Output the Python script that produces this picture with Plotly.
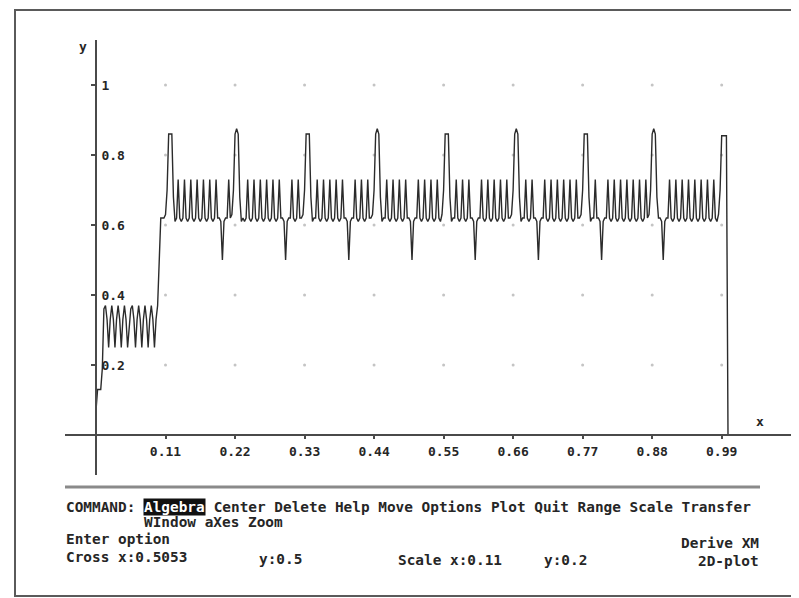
import plotly.graph_objects as go

# ---------------- data ----------------
x_tick_vals = [0.11, 0.22, 0.33, 0.44, 0.55, 0.66, 0.77, 0.88, 0.99]
x_tick_text = ["0.11", "0.22", "0.33", "0.44", "0.55", "0.66", "0.77", "0.88", "0.99"]
y_tick_vals = [0.2, 0.4, 0.6, 0.8, 1.0]
y_tick_text = ["0.2", "0.4", "0.6", "0.8", "1"]

x_step = 0.0025  # sampling step of the plotted curve (x from 0 to 1)

# curve values, x = 0 .. 0.1
y_startup = [
    0.07, 0.13, 0.13, 0.13, 0.19, 0.36, 0.37, 0.33, 0.25, 0.33, 0.37, 0.33, 0.25, 0.33, 0.37, 0.33, 0.25, 0.33, 0.37, 0.33,
    0.25, 0.32, 0.36, 0.37, 0.33, 0.25, 0.33, 0.37, 0.33, 0.25, 0.33, 0.37, 0.33, 0.25, 0.33, 0.37, 0.33, 0.25, 0.33, 0.37,
]
# curve values, x = 0.1 .. 1.0
y_upper = [
    0.52, 0.62, 0.62, 0.62, 0.63, 0.70, 0.86, 0.86, 0.86, 0.68, 0.61, 0.62, 0.73, 0.62, 0.61, 0.62, 0.73, 0.62, 0.61, 0.62,
    0.73, 0.62, 0.61, 0.62, 0.73, 0.62, 0.61, 0.62, 0.73, 0.62, 0.61, 0.62, 0.73, 0.62, 0.61, 0.62, 0.73, 0.62, 0.62, 0.61,
    0.50, 0.61, 0.62, 0.62, 0.73, 0.62, 0.63, 0.70, 0.86, 0.875, 0.86, 0.68, 0.61, 0.62, 0.61, 0.62, 0.73, 0.62, 0.61, 0.62,
    0.73, 0.62, 0.61, 0.62, 0.73, 0.62, 0.61, 0.62, 0.73, 0.62, 0.61, 0.62, 0.73, 0.62, 0.61, 0.62, 0.73, 0.62, 0.62, 0.61,
    0.50, 0.61, 0.62, 0.62, 0.73, 0.62, 0.61, 0.62, 0.73, 0.62, 0.62, 0.63, 0.70, 0.86, 0.86, 0.86, 0.68, 0.61, 0.62, 0.62,
    0.73, 0.62, 0.61, 0.62, 0.73, 0.62, 0.61, 0.62, 0.73, 0.62, 0.61, 0.62, 0.73, 0.62, 0.61, 0.62, 0.73, 0.62, 0.62, 0.61,
    0.50, 0.61, 0.62, 0.62, 0.73, 0.62, 0.61, 0.62, 0.73, 0.62, 0.61, 0.62, 0.73, 0.62, 0.62, 0.63, 0.70, 0.86, 0.875, 0.86,
    0.68, 0.61, 0.62, 0.62, 0.73, 0.62, 0.61, 0.62, 0.73, 0.62, 0.61, 0.62, 0.73, 0.62, 0.61, 0.62, 0.73, 0.62, 0.62, 0.61,
    0.50, 0.61, 0.62, 0.62, 0.73, 0.62, 0.61, 0.62, 0.73, 0.62, 0.61, 0.62, 0.73, 0.62, 0.61, 0.62, 0.73, 0.62, 0.61, 0.63,
    0.70, 0.86, 0.86, 0.86, 0.68, 0.61, 0.62, 0.62, 0.73, 0.62, 0.61, 0.62, 0.73, 0.62, 0.61, 0.62, 0.73, 0.62, 0.62, 0.61,
    0.50, 0.61, 0.62, 0.62, 0.73, 0.62, 0.61, 0.62, 0.73, 0.62, 0.61, 0.62, 0.73, 0.62, 0.61, 0.62, 0.73, 0.62, 0.61, 0.62,
    0.73, 0.62, 0.62, 0.63, 0.70, 0.86, 0.875, 0.86, 0.68, 0.61, 0.62, 0.62, 0.73, 0.62, 0.61, 0.62, 0.73, 0.62, 0.62, 0.61,
    0.50, 0.61, 0.62, 0.62, 0.73, 0.62, 0.61, 0.62, 0.73, 0.62, 0.61, 0.62, 0.73, 0.62, 0.61, 0.62, 0.73, 0.62, 0.61, 0.62,
    0.73, 0.62, 0.61, 0.62, 0.73, 0.62, 0.62, 0.63, 0.70, 0.86, 0.86, 0.86, 0.68, 0.61, 0.62, 0.62, 0.73, 0.62, 0.62, 0.61,
    0.50, 0.61, 0.62, 0.62, 0.73, 0.62, 0.61, 0.62, 0.73, 0.62, 0.61, 0.62, 0.73, 0.62, 0.61, 0.62, 0.73, 0.62, 0.61, 0.62,
    0.73, 0.62, 0.61, 0.62, 0.73, 0.62, 0.61, 0.62, 0.73, 0.62, 0.63, 0.70, 0.86, 0.875, 0.86, 0.68, 0.62, 0.62, 0.61, 0.50,
    0.61, 0.62, 0.62, 0.73, 0.62, 0.61, 0.62, 0.73, 0.62, 0.61, 0.62, 0.73, 0.62, 0.61, 0.62, 0.73, 0.62, 0.61, 0.62, 0.73,
    0.62, 0.61, 0.62, 0.73, 0.62, 0.61, 0.62, 0.73, 0.62, 0.61, 0.62, 0.73, 0.62, 0.61, 0.63, 0.70, 0.855, 0.855, 0.855, 0.855,
    0.0,
]

menu_lead = "COMMAND: "
menu_hot = "Algebra"
menu_rest = " Center Delete Help Move Options Plot Quit Range Scale Transfer"
menu_line2 = "WIndow aXes Zoom"
status_texts = ["Enter option", "Cross x:0.5053", "y:0.5", "Scale x:0.11", "y:0.2"]
right_texts = ["Derive XM", "2D-plot"]

# ---------------- build ----------------
y_curve = y_startup + y_upper
x_curve = [round(i * x_step, 4) for i in range(len(y_curve))]

PAGE = 8                      # default body margin of the html page
W, H = 799 - PAGE, 598 - PAGE
X0, XS = 96.0, 632.0          # window pixel of x=0, pixels per unit
Y0, YS = 435.0, 350.0         # window pixel of y=0, pixels per unit


def dx(px):
    return (px - X0) / XS


def dy(py):
    return (Y0 - py) / YS


def fx(px):
    return (px - PAGE) / W


def fy(py):
    return 1 - (py - PAGE) / H


MONO = "DejaVu Sans Mono"
INK = "#262626"

grid_x = [xv for yv in y_tick_vals for xv in x_tick_vals]
grid_y = [yv for yv in y_tick_vals for xv in x_tick_vals]

fig = go.Figure()
fig.add_trace(go.Scatter(
    x=grid_x, y=grid_y, mode="markers",
    marker=dict(size=3, color="#c4c4c4"), hoverinfo="skip"))
fig.add_trace(go.Scatter(
    x=x_curve, y=y_curve, mode="lines",
    line=dict(color="#2b2b2b", width=1.4), hoverinfo="skip"))

fig.update_layout(
    width=W, height=H,
    margin=dict(l=0, r=0, t=0, b=0),
    paper_bgcolor="white", plot_bgcolor="white",
    showlegend=False, hovermode=False,
    xaxis=dict(
        domain=[fx(65), fx(795)], range=[dx(65), dx(795)],
        anchor="free", position=fy(Y0),
        showline=True, linecolor="#4a4a4a", linewidth=2,
        ticks="outside", ticklen=3, tickwidth=2, tickcolor="#4a4a4a",
        tickvals=x_tick_vals, ticktext=x_tick_text,
        tickfont=dict(family=MONO, size=13, color=INK, weight=700),
        ticklabelstandoff=1,
        showgrid=False, zeroline=False, fixedrange=True,
    ),
    yaxis=dict(
        domain=[fy(475), fy(40)], range=[dy(475), dy(40)],
        anchor="free", position=fx(X0),
        showline=True, linecolor="#4a4a4a", linewidth=2,
        ticks="outside", ticklen=4, tickwidth=2, tickcolor="#4a4a4a",
        ticklabelposition="inside",
        tickvals=y_tick_vals, ticktext=y_tick_text,
        tickfont=dict(family=MONO, size=13, color=INK, weight=700),
        ticklabelstandoff=4,
        showgrid=False, zeroline=False, fixedrange=True,
    ),
)

# frame and separator
fig.add_shape(type="rect", xref="paper", yref="paper",
              x0=fx(15), x1=fx(806), y0=fy(596), y1=fy(10),
              line=dict(color="#5a5a5a", width=2), fillcolor="rgba(0,0,0,0)")
fig.add_shape(type="line", xref="paper", yref="paper",
              x0=fx(65), x1=fx(760), y0=fy(487), y1=fy(487),
              line=dict(color="#8a8a8a", width=3))


def txt(s, px, py, anchor="left", size=14.4, color=INK, bg=None):
    fig.add_annotation(
        text=s, x=fx(px), y=fy(py), xref="paper", yref="paper",
        xanchor=anchor, yanchor="middle", showarrow=False,
        font=dict(family=MONO, size=size, color=color, weight=700),
        bgcolor=bg, borderpad=0)


# axis names
txt("y", 83, 47, anchor="center", size=13)
txt("x", 760, 421, anchor="center", size=13)

cw = 14.4 * 0.602
txt(menu_lead, 65, 507)
txt(menu_hot, 65 + len(menu_lead) * cw, 507, color="white", bg="#111111")
txt(menu_rest, 65 + (len(menu_lead) + len(menu_hot)) * cw, 507)
txt(menu_line2, 65 + len(menu_lead) * cw, 522)
txt(status_texts[0], 65, 539)
txt(status_texts[1], 65, 557)
txt(status_texts[2], 258, 559)
txt(status_texts[3], 397, 560)
txt(status_texts[4], 543, 560)
txt(right_texts[0], 760, 543, anchor="right")
txt(right_texts[1], 760, 561, anchor="right")

fig.write_html("out.html", config={"displayModeBar": False})
